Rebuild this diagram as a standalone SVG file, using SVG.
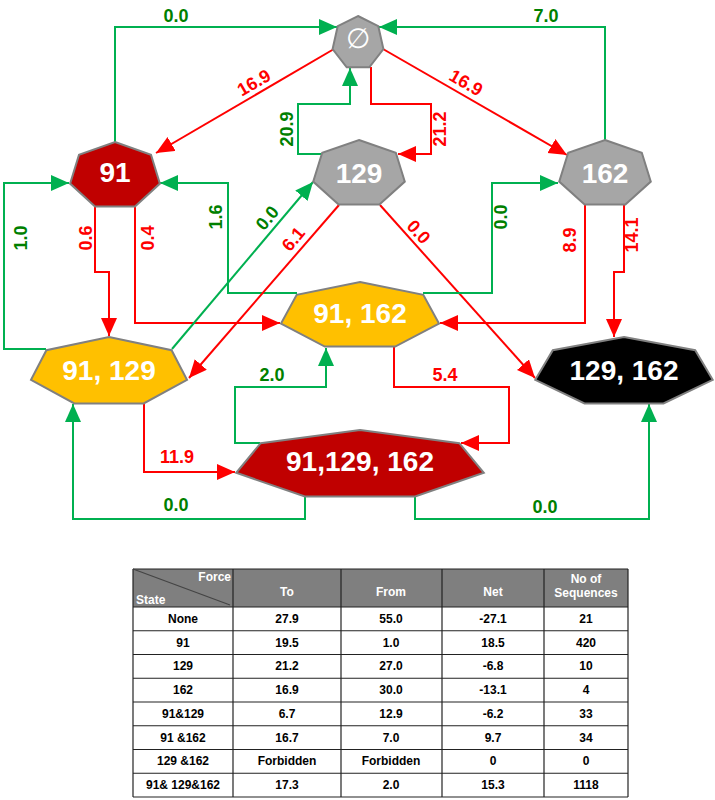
<svg xmlns="http://www.w3.org/2000/svg" width="715" height="800" viewBox="0 0 715 800">
<style>
.n{stroke:#808080;stroke-width:2}
.nt{font-family:"Liberation Sans Narrow","Liberation Sans",Arial,sans-serif;font-weight:bold;font-size:28px;fill:#fff;text-anchor:middle}
.g{fill:none;stroke:#00B050;stroke-width:2;marker-end:url(#ag)}
.r{fill:none;stroke:#FF0000;stroke-width:2;marker-end:url(#ar)}
.lg,.lr{font-family:"Liberation Sans Narrow","Liberation Sans",Arial,sans-serif;font-weight:bold;font-size:18px;text-anchor:middle}
.lg{fill:#008000}.lr{fill:#FF0000}
.th{font-family:"Liberation Sans",Arial,sans-serif;font-weight:bold;font-size:12px;fill:#fff;text-anchor:middle}
.td{font-family:"Liberation Sans",Arial,sans-serif;font-weight:bold;font-size:12px;fill:#000;text-anchor:middle}
.tl{stroke:#222;stroke-width:1.2}
</style>
<defs>
<marker id="ag" markerUnits="userSpaceOnUse" markerWidth="20" markerHeight="18" refX="18" refY="8" orient="auto"><path d="M0,0 L18,8 L0,16 Z" fill="#00B050"/></marker>
<marker id="ar" markerUnits="userSpaceOnUse" markerWidth="20" markerHeight="18" refX="18" refY="8" orient="auto"><path d="M0,0 L18,8 L0,16 Z" fill="#FF0000"/></marker>
</defs>
<g id="connectors">
<path class="g" d="M115,142 V27 H337"/><text class="lg" x="176" y="22">0.0</text>
<path class="g" d="M605,140 V27 H379"/><text class="lg" x="546" y="22">7.0</text>
<path class="r" d="M334,49 L156,153"/><text class="lr" transform="translate(257,88) rotate(-30)">16.9</text>
<path class="r" d="M383,49 L567,155"/><text class="lr" transform="translate(463,88) rotate(30)">16.9</text>
<path class="g" d="M322,154 H298 V104 H350 V68"/><text class="lg" transform="translate(293,129) rotate(-90)">20.9</text>
<path class="r" d="M371,67 V104 H431 V154 H398"/><text class="lr" transform="translate(446,129) rotate(-90)">21.2</text>
<path class="g" d="M46,349 H4 V183 H69"/><text class="lg" transform="translate(27,238) rotate(-90)">1.0</text>
<path class="r" d="M95,207 V272 H109 V336"/><text class="lr" transform="translate(92,238) rotate(-90)">0.6</text>
<path class="r" d="M135,207 V323 H280"/><text class="lr" transform="translate(154,238) rotate(-90)">0.4</text>
<path class="g" d="M297,293 H228 V183 H160"/><text class="lg" transform="translate(222,217) rotate(-90)">1.6</text>
<path class="g" d="M172,349 L313,182"/><text class="lg" transform="translate(272,222) rotate(-50)">0.0</text>
<path class="r" d="M339,205 L189,378"/><text class="lr" transform="translate(298,243) rotate(-50)">6.1</text>
<path class="r" d="M380,205 L535,378"/><text class="lr" transform="translate(414,236) rotate(48)">0.0</text>
<path class="g" d="M423,293 H492 V183 H558"/><text class="lg" transform="translate(507,217) rotate(-90)">0.0</text>
<path class="r" d="M585,205 V323 H440"/><text class="lr" transform="translate(576,240) rotate(-90)">8.9</text>
<path class="r" d="M624,205 V272 H614 V337"/><text class="lr" transform="translate(638,235) rotate(-90)">14.1</text>
<path class="g" d="M260,443 H235 V387 H326 V348"/><text class="lg" x="272" y="381">2.0</text>
<path class="r" d="M394,347 V387 H509 V443 H461"/><text class="lr" x="445" y="381">5.4</text>
<path class="r" d="M144,403 V472 H235"/><text class="lr" x="177" y="463">11.9</text>
<path class="g" d="M305,496 V519 H73 V404"/><text class="lg" x="176" y="511">0.0</text>
<path class="g" d="M415,496 V519 H649 V404"/><text class="lg" x="545" y="513">0.0</text>
</g>
<g id="n-empty"><polygon class="n" fill="#A6A6A6" points="358,16 378.3,26.2 383.4,49 369.3,67.3 346.7,67.3 332.6,49 337.7,26.2"/><text class="nt" x="358" y="48" font-size="24" fill="#EEEEEE" style="font-weight:normal">∅</text></g>
<g id="n-91"><polygon class="n" fill="#C00000" points="115,142 151,154.8 159.9,183.6 135,206.6 95,206.6 70.1,183.6 79,154.8"/><text class="nt" x="115" y="182">91</text></g>
<g id="n-129"><polygon class="n" fill="#A6A6A6" points="359,140 395.8,152.8 404.8,181.6 379.4,204.6 338.6,204.6 313.2,181.6 322.2,152.8"/><text class="nt" x="359" y="183">129</text></g>
<g id="n-162"><polygon class="n" fill="#A6A6A6" points="605,140 641.8,152.8 650.8,181.6 625.4,204.6 584.6,204.6 559.2,181.6 568.2,152.8"/><text class="nt" x="605" y="183">162</text></g>
<g id="n-91-162"><polygon class="n" fill="#FFC000" points="360,282 423.3,294.8 439,323.6 395.2,346.6 324.8,346.6 281,323.6 296.7,294.8"/><text class="nt" x="360" y="323">91, 162</text></g>
<g id="n-91-129"><polygon class="n" fill="#FFC000" points="109,337 171.6,350.2 187,379.8 143.7,403.5 74.3,403.5 31,379.8 46.4,350.2"/><text class="nt" x="109" y="380">91, 129</text></g>
<g id="n-129-162"><polygon class="n" fill="#000000" points="624,337 695.2,350.2 712.7,379.8 663.5,403.5 584.5,403.5 535.3,379.8 552.8,350.2"/><text class="nt" x="624" y="380">129, 162</text></g>
<g id="n-91-129-162"><polygon class="n" fill="#C00000" points="360,430 459.3,443.2 483.8,472.8 415.1,496.5 304.9,496.5 236.2,472.8 260.7,443.2"/><text class="nt" x="360" y="471">91,129, 162</text></g>
<g id="table">
<rect x="133" y="569" width="495" height="38" fill="#7F7F7F"/>
<rect x="133" y="607" width="495" height="190" fill="#fff"/>
<g class="tl">
<line x1="133" y1="569" x2="628" y2="569"/><line x1="133" y1="607" x2="628" y2="607"/>
<line x1="133" y1="630.75" x2="628" y2="630.75"/><line x1="133" y1="654.5" x2="628" y2="654.5"/>
<line x1="133" y1="678.25" x2="628" y2="678.25"/><line x1="133" y1="702" x2="628" y2="702"/>
<line x1="133" y1="725.75" x2="628" y2="725.75"/><line x1="133" y1="749.5" x2="628" y2="749.5"/>
<line x1="133" y1="773.25" x2="628" y2="773.25"/><line x1="133" y1="797" x2="628" y2="797"/>
<line x1="133" y1="569" x2="133" y2="797"/><line x1="233" y1="569" x2="233" y2="797"/>
<line x1="341" y1="569" x2="341" y2="797"/><line x1="442" y1="569" x2="442" y2="797"/>
<line x1="544" y1="569" x2="544" y2="797"/><line x1="628" y1="569" x2="628" y2="797"/>
<line x1="133" y1="569" x2="230" y2="605" stroke="#444"/>
</g>
<text class="th" x="231" y="581" style="text-anchor:end">Force</text>
<text class="th" x="136" y="604" style="text-anchor:start">State</text>
<text class="th" x="287" y="596">To</text><text class="th" x="391" y="596">From</text><text class="th" x="493" y="596">Net</text>
<text class="th" x="586" y="583">No of</text><text class="th" x="586" y="597">Sequences</text>
<g class="td">
<text x="183" y="623">None</text><text x="287" y="623">27.9</text><text x="391" y="623">55.0</text><text x="493" y="623">-27.1</text><text x="586" y="623">21</text>
<text x="183" y="647">91</text><text x="287" y="647">19.5</text><text x="391" y="647">1.0</text><text x="493" y="647">18.5</text><text x="586" y="647">420</text>
<text x="183" y="670">129</text><text x="287" y="670">21.2</text><text x="391" y="670">27.0</text><text x="493" y="670">-6.8</text><text x="586" y="670">10</text>
<text x="183" y="694">162</text><text x="287" y="694">16.9</text><text x="391" y="694">30.0</text><text x="493" y="694">-13.1</text><text x="586" y="694">4</text>
<text x="183" y="718">91&amp;129</text><text x="287" y="718">6.7</text><text x="391" y="718">12.9</text><text x="493" y="718">-6.2</text><text x="586" y="718">33</text>
<text x="183" y="742">91 &amp;162</text><text x="287" y="742">16.7</text><text x="391" y="742">7.0</text><text x="493" y="742">9.7</text><text x="586" y="742">34</text>
<text x="183" y="765">129 &amp;162</text><text x="287" y="765">Forbidden</text><text x="391" y="765">Forbidden</text><text x="493" y="765">0</text><text x="586" y="765">0</text>
<text x="183" y="789">91&amp; 129&amp;162</text><text x="287" y="789">17.3</text><text x="391" y="789">2.0</text><text x="493" y="789">15.3</text><text x="586" y="789">1118</text>
</g>
</g>
</svg>
